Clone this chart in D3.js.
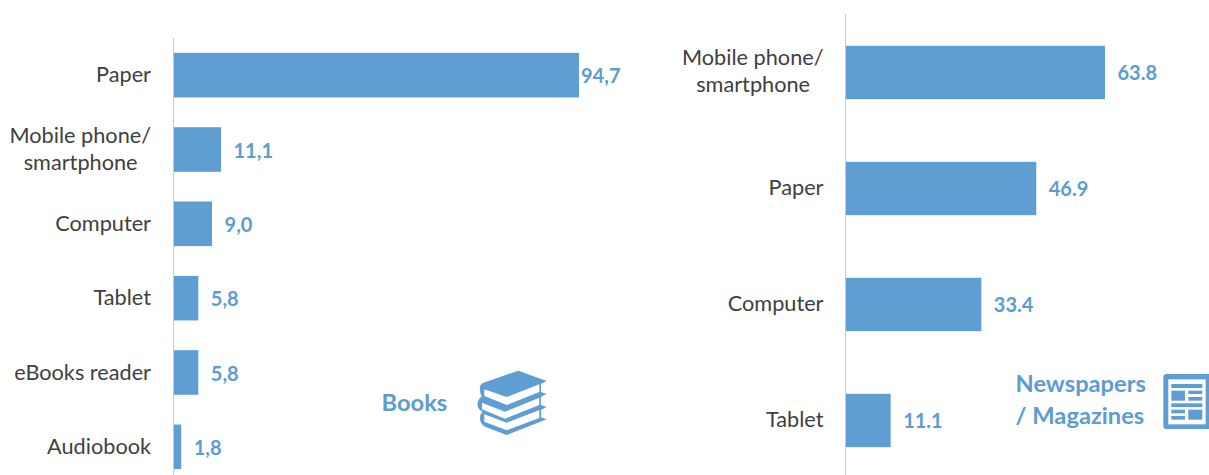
<!DOCTYPE html>
<html>
<head>
<meta charset="utf-8">
<script src="https://cdn.jsdelivr.net/npm/d3@7"></script>
<style>
  html, body { margin: 0; padding: 0; background: #fff; overflow: hidden; }
  text { font-family: Lato, "Open Sans", sans-serif; }
</style>
</head>
<body>
<div id="chart"></div>
<script>
// Data
const booksCategories = ["Paper", "Mobile phone/\nsmartphone", "Computer", "Tablet", "eBooks reader", "Audiobook"];
const booksValues = [94.7, 11.1, 9.0, 5.8, 5.8, 1.8];
const pressCategories = ["Mobile phone/\nsmartphone", "Paper", "Computer", "Tablet"];
const pressValues = [63.8, 46.9, 33.4, 11.1];

const blue = "#5f9ed3";
const labelBlue = "#5c9cd4";

const svg = d3.select("#chart")
    .append("svg")
    .attr("width", 1209)
    .attr("height", 475)
    .style("display", "block");

// Draw one horizontal bar panel
function drawPanel(cfg) {
    const yScale = d3.scaleBand()
        .domain(cfg.categories)
        .range(cfg.yRange)
        .paddingInner(cfg.padding)
        .paddingOuter(cfg.padding / 2);

    const xScale = d3.scaleLinear()
        .domain([0, cfg.maxValue])
        .range(cfg.xRange);

    const rows = cfg.categories.map((c, i) => ({ category: c, value: cfg.values[i] }));
    const g = svg.append("g");

    g.selectAll(".bar")
        .data(rows)
        .enter()
        .append("rect")
        .attr("class", "bar")
        .attr("x", xScale(0))
        .attr("y", d => yScale(d.category))
        .attr("width", d => xScale(d.value) - xScale(0))
        .attr("height", yScale.bandwidth())
        .attr("fill", blue);

    // Category axis, tick marks hidden
    const axis = g.append("g")
        .attr("transform", `translate(${xScale(0)},0)`)
        .call(d3.axisLeft(yScale).tickSize(0).tickPadding(22));

    axis.select(".domain")
        .attr("stroke", "#c9c9c9")
        .attr("stroke-width", 1)
        .attr("d", `M0,${cfg.axisTop}V475`);

    axis.selectAll(".tick text")
        .style("font-family", "Lato, 'Open Sans', sans-serif")
        .style("font-size", "21.7px")
        .attr("fill", "#404040")
        .each(function(d) {
            // Split the two line labels
            const lines = d.split("\n");
            const text = d3.select(this).text(null).attr("dy", null);
            lines.forEach((line, i) => {
                text.append("tspan")
                    .attr("x", -cfg.labelGap - (i === 1 ? cfg.wrapInset : 0))
                    .attr("y", (i - (lines.length - 1) / 2) * 27 + cfg.labelDy)
                    .attr("text-anchor", "end")
                    .text(line);
            });
        });

    // Value labels
    g.selectAll(".value")
        .data(rows)
        .enter()
        .append("text")
        .attr("class", "value")
        .attr("x", d => xScale(d.value) + (d.value > 90 ? 2 : 12.5))
        .attr("y", d => yScale(d.category) + yScale.bandwidth() / 2 + cfg.labelDy + 1)
        .attr("fill", labelBlue)
        .attr("font-size", "20px")
        .attr("font-weight", 700)
        .text(d => cfg.format(d.value));
}

drawPanel({
    categories: booksCategories,
    values: booksValues,
    maxValue: 94.7,
    xRange: [173.5, 579],
    yRange: [38, 484],
    padding: 0.4,
    axisTop: 38,
    wrapInset: 13.5,
    labelGap: 22.5,
    labelDy: 7,
    format: v => d3.format(".1f")(v).replace(".", ",")
});

drawPanel({
    categories: pressCategories,
    values: pressValues,
    maxValue: 63.8,
    xRange: [845.5, 1105],
    yRange: [14.5, 478.5],
    padding: 0.54,
    axisTop: 14,
    wrapInset: 13.5,
    labelGap: 22,
    labelDy: 6,
    format: v => d3.format(".1f")(v)
});

// Panel titles
function title(x, y, str) {
    svg.append("text")
        .attr("x", x)
        .attr("y", y)
        .attr("fill", labelBlue)
        .attr("font-size", "23.7px")
        .attr("font-weight", 700)
        .text(str);
}
title(381.5, 410.5, "Books");
title(1015.5, 392, "Newspapers");
title(1015.5, 424, "/ Magazines");

// Books icon
const books = svg.append("g").attr("transform", "translate(370,350) scale(0.3333)");
books.append("path")
    .attr("fill", blue)
    .attr("d", "M345,97 L445,62 L530,93 L513,102 L513,126 L530,132 L513,140 L513,165 L530,171 L513,180 L513,202 L530,208 L410,255 L345,230 Q330,222 330,205 Q330,192 337,185 Q320,175 323,160 Q325,145 335,140 Q328,125 330,110 Q333,100 345,97 Z");
["M343,118 L410,141 L508,103 L508,126 L411,165 L343,138 Z",
 "M336,158 L405,185 L508,143 L508,165 L405,206 L336,178 Z",
 "M343,193 L410,218 L508,180 L508,204 L410,241 L343,215 Z"].forEach(p => {
    books.append("path").attr("fill", "#fff").attr("d", p);
});

// Newspaper icon
const news = svg.append("g").attr("transform", "translate(1000,360) scale(0.3333)");
news.append("rect").attr("x", 490).attr("y", 42).attr("width", 150).attr("height", 165).attr("rx", 10).attr("fill", blue);
news.append("rect").attr("x", 505).attr("y", 58).attr("width", 112).attr("height", 135).attr("fill", "#fff");
[[514, 72, 93, 12], [514, 92, 41, 30], [565, 92, 42, 10], [565, 111, 42, 11], [514, 130, 93, 11],
 [514, 149, 41, 11], [514, 168, 41, 11], [565, 149, 42, 30]].forEach(r => {
    news.append("rect").attr("x", r[0]).attr("y", r[1]).attr("width", r[2]).attr("height", r[3]).attr("fill", blue);
});
</script>
</body>
</html>
